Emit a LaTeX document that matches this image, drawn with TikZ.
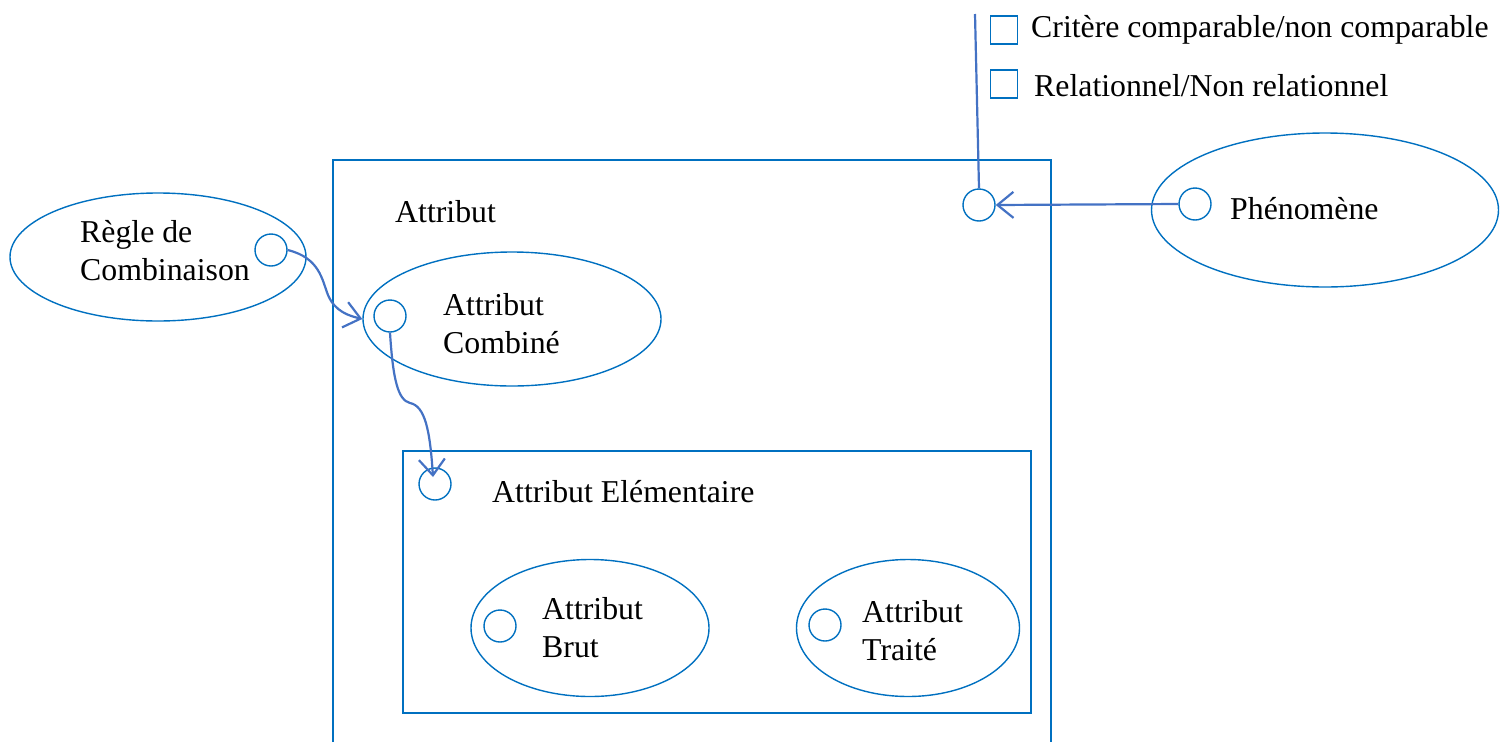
\documentclass[tikz,border=0pt]{standalone}
\usepackage{fontspec}
\setmainfont{Liberation Serif}
\usetikzlibrary{shapes.geometric,arrows.meta,calc}
\definecolor{eb}{HTML}{0070C0}
\definecolor{ab}{HTML}{4472C4}
\begin{document}
\begin{tikzpicture}[x=1pt,y=-1pt,
 txt/.style={font=\fontsize{31.8pt}{38pt}\selectfont, inner sep=0pt, anchor=west, align=left},
 ell/.style={draw=eb, line width=1.4pt, ellipse, inner sep=0pt},
 port/.style={draw=eb, line width=1.4pt, circle, minimum size=32pt, inner sep=0pt},
 frame/.style={draw=eb, line width=1.4pt},
 cbox/.style={draw=eb, line width=1.1pt, rectangle, minimum width=27pt, minimum height=28pt, inner sep=0pt},
 link/.style={draw=ab, line width=2.2pt},
 conn/.style={link, -{Straight Barb[length=16pt,width=26pt,line width=2.2pt]}},
]
\useasboundingbox (0,0) rectangle (1509,742);
% frames
\draw[frame] (333,742) -- (333,160) -- (1051,160) -- (1051,742);
\node[frame, draw, rectangle, minimum width=628pt, minimum height=262pt, inner sep=0pt] (elem) at (717,582) {};
% ellipses
\node[ell, minimum width=296pt, minimum height=128pt] (regle) at (158,257) {};
\node[ell, minimum width=298pt, minimum height=134pt] (comb) at (512,319) {};
\node[ell, minimum width=347pt, minimum height=154pt] (phen) at (1325,210) {};
\node[ell, minimum width=238pt, minimum height=137pt] (brut) at (590,628) {};
\node[ell, minimum width=223pt, minimum height=137pt] (traite) at (908,628) {};
% ports
\node[port] (pr) at (271,250) {};
\node[port] (pc) at (390,316) {};
\node[port] (pa) at (979,205) {};
\node[port] (pp) at (1195,204) {};
\node[port] (pe) at (435,484) {};
\node[port] (pb) at (500,626) {};
\node[port] (pt) at (825,625) {};
% checkboxes
\node[cbox] (cb1) at (1004,30) {};
\node[cbox] (cb2) at (1004,84) {};
% texts
\node[txt] (tattr) at (395,212) {Attribut};
\node[txt] (tregle) at (80,251) {Règle de\\Combinaison};
\node[txt] (tcomb) at (443,324) {Attribut\\Combiné};
\node[txt] (tphen) at (1230,209) {Phénomène};
\node[txt] (telem) at (492,492) {Attribut Elémentaire};
\node[txt] (tbrut) at (542,628) {Attribut\\Brut};
\node[txt] (ttr) at (862,631) {Attribut\\Traité};
\node[txt] (tc1) at (1031,30) {Critère comparable/non comparable};
\node[txt] (tc2) at (1034,86) {Relationnel/Non relationnel};
% connectors
\coordinate (vtop) at (975,14);
\draw[link] (vtop) -- (pa.north);
\draw[conn] (pp.west) -- (pa.east);
\draw[conn] (pr.east) .. controls (320,258) and (322,280) .. (328,295) .. controls (335,312) and (350,316) .. (comb.west);
\draw[conn] (pc.south) .. controls (393,380) and (398,400) .. (410,403) .. controls (425,406) and (430,430) .. ($(pe.center)+(-2,-7)$);
\end{tikzpicture}
\end{document}
